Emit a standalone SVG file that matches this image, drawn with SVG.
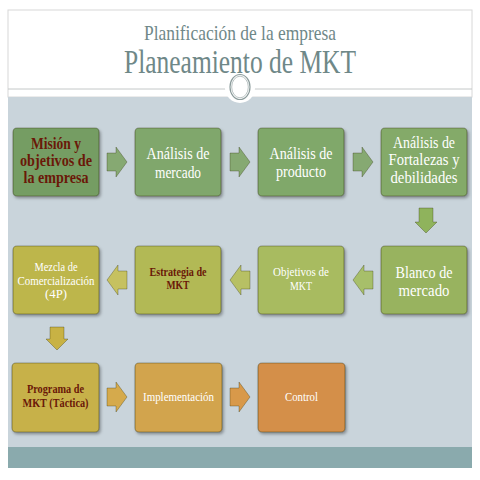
<svg xmlns="http://www.w3.org/2000/svg" width="480" height="480" viewBox="0 0 480 480">
<defs>
<filter id="sh" x="-10%" y="-10%" width="125%" height="130%">
<feDropShadow dx="1.5" dy="2" stdDeviation="1.5" flood-color="#000" flood-opacity="0.35"/>
</filter>
</defs>
<style>
.box{stroke:rgba(40,40,0,0.35);stroke-width:1.2;filter:url(#sh)}
.arr{stroke:rgba(40,40,0,0.3);stroke-width:1}
.t{font-family:"Liberation Serif","Times New Roman",serif;text-anchor:middle;fill:#ffffff}
.big{font-size:16px}
.sm{font-size:11.5px}
.red{fill:#6a1808;font-weight:bold}
.ttl{font-family:"Liberation Serif","Times New Roman",serif;text-anchor:middle;fill:#6f8888}
</style>
<rect width="480" height="480" fill="#ffffff"/>
<g id="slide">
<rect x="8" y="10" width="464" height="87" fill="#ffffff" stroke="#d8d8d8" stroke-width="1"/>
<rect x="8" y="97" width="464" height="350" fill="#c9d4db"/>
<rect x="8" y="447" width="464" height="21" fill="#8aaaad"/>
<line x1="8" y1="89" x2="472" y2="89" stroke="#c4c8c8" stroke-width="1"/>
<circle cx="240" cy="88" r="15" fill="#ffffff"/>
<ellipse cx="240" cy="87" rx="10" ry="12.5" fill="none" stroke="#8c9c9c" stroke-width="1.2"/>
<ellipse cx="240" cy="87" rx="8.3" ry="10.8" fill="none" stroke="#a8b4b4" stroke-width="0.8"/>
<text class="ttl" x="240" y="40" font-size="22" textLength="192" lengthAdjust="spacingAndGlyphs">Planificación de la empresa</text>
<text class="ttl" x="240" y="73" font-size="33" textLength="232" lengthAdjust="spacingAndGlyphs">Planeamiento de MKT</text>
</g>
<g id="connectors">
<path class="arr" fill="#86a972" d="M107,153 h9 v-6 l11,15 l-11,15 v-6 h-9 z"/>
<path class="arr" fill="#86a972" d="M230,153 h9 v-6 l11,15 l-11,15 v-6 h-9 z"/>
<path class="arr" fill="#86a972" d="M353,153 h9 v-6 l11,15 l-11,15 v-6 h-9 z"/>
<path class="arr" fill="#8fb35c" d="M419,208 h14 v14 h4 l-11,11 l-11,-11 h4 z"/>
<path class="arr" fill="#a7bf6a" d="M373,271 h-9 v-6 l-11,15 l11,15 v-6 h9 z"/>
<path class="arr" fill="#b7c064" d="M250,271 h-9 v-6 l-11,15 l11,15 v-6 h9 z"/>
<path class="arr" fill="#c6c160" d="M127,271 h-9 v-6 l-11,15 l11,15 v-6 h9 z"/>
<path class="arr" fill="#c8b244" d="M50,327 h14 v12 h4 l-11,11 l-11,-11 h4 z"/>
<path class="arr" fill="#d5aa4c" d="M107,388 h9 v-6 l11,15 l-11,15 v-6 h-9 z"/>
<path class="arr" fill="#d8994a" d="M230,388 h9 v-6 l11,15 l-11,15 v-6 h-9 z"/>
</g>
<g id="n1">
<rect class="box" x="13" y="128" width="86" height="68" rx="4" fill="#749d63"/>
<text class="t big red"><tspan x="56" y="149" textLength="50" lengthAdjust="spacingAndGlyphs">Misión y</tspan><tspan x="56" y="166" textLength="72" lengthAdjust="spacingAndGlyphs">objetivos de</tspan><tspan x="56" y="183" textLength="65" lengthAdjust="spacingAndGlyphs">la empresa</tspan></text>
</g>
<g id="n2">
<rect class="box" x="135" y="128" width="86" height="68" rx="4" fill="#80a76c"/>
<text class="t big"><tspan x="178" y="159" textLength="63" lengthAdjust="spacingAndGlyphs">Análisis de</tspan><tspan x="178" y="178" textLength="46" lengthAdjust="spacingAndGlyphs">mercado</tspan></text>
</g>
<g id="n3">
<rect class="box" x="258" y="128" width="86" height="68" rx="4" fill="#80a86b"/>
<text class="t big"><tspan x="301" y="159" textLength="63" lengthAdjust="spacingAndGlyphs">Análisis de</tspan><tspan x="301" y="177" textLength="50" lengthAdjust="spacingAndGlyphs">producto</tspan></text>
</g>
<g id="n4">
<rect class="box" x="381" y="128" width="86" height="68" rx="4" fill="#84aa69"/>
<text class="t big"><tspan x="424" y="148" textLength="62" lengthAdjust="spacingAndGlyphs">Análisis de</tspan><tspan x="424" y="165" textLength="71" lengthAdjust="spacingAndGlyphs">Fortalezas y</tspan><tspan x="424" y="183" textLength="67" lengthAdjust="spacingAndGlyphs">debilidades</tspan></text>
</g>
<g id="n5">
<rect class="box" x="381" y="246" width="86" height="68" rx="4" fill="#98b35e"/>
<text class="t big"><tspan x="424" y="278" textLength="57" lengthAdjust="spacingAndGlyphs">Blanco de</tspan><tspan x="424" y="296" textLength="51" lengthAdjust="spacingAndGlyphs">mercado</tspan></text>
</g>
<g id="n6">
<rect class="box" x="258" y="246" width="86" height="68" rx="4" fill="#a8bb60"/>
<text class="t sm"><tspan x="301" y="276" textLength="56" lengthAdjust="spacingAndGlyphs">Objetivos de</tspan><tspan x="301" y="290" textLength="22" lengthAdjust="spacingAndGlyphs">MKT</tspan></text>
</g>
<g id="n7">
<rect class="box" x="135" y="246" width="86" height="68" rx="4" fill="#b2b955"/>
<text class="t sm red"><tspan x="178" y="276" textLength="57" lengthAdjust="spacingAndGlyphs">Estrategia de</tspan><tspan x="178" y="289" textLength="23" lengthAdjust="spacingAndGlyphs">MKT</tspan></text>
</g>
<g id="n8">
<rect class="box" x="13" y="246" width="86" height="68" rx="4" fill="#bdb64c"/>
<text class="t sm"><tspan x="56" y="271" textLength="43" lengthAdjust="spacingAndGlyphs">Mezcla de</tspan><tspan x="56" y="284.5" textLength="77" lengthAdjust="spacingAndGlyphs">Comercialización</tspan><tspan x="56" y="298" textLength="22" lengthAdjust="spacingAndGlyphs">(4P)</tspan></text>
</g>
<g id="n9">
<rect class="box" x="12" y="363" width="87" height="69" rx="4" fill="#c7b14a"/>
<text class="t sm red"><tspan x="55.5" y="393" textLength="57" lengthAdjust="spacingAndGlyphs">Programa de</tspan><tspan x="55.5" y="407" textLength="66" lengthAdjust="spacingAndGlyphs">MKT (Táctica)</tspan></text>
</g>
<g id="n10">
<rect class="box" x="135" y="363" width="87" height="69" rx="4" fill="#d2a44e"/>
<text class="t sm" x="178.5" y="401" textLength="71" lengthAdjust="spacingAndGlyphs">Implementación</text>
</g>
<g id="n11">
<rect class="box" x="258" y="363" width="87" height="69" rx="4" fill="#d48f48"/>
<text class="t sm" x="301.5" y="401" textLength="33" lengthAdjust="spacingAndGlyphs">Control</text>
</g>
</svg>
